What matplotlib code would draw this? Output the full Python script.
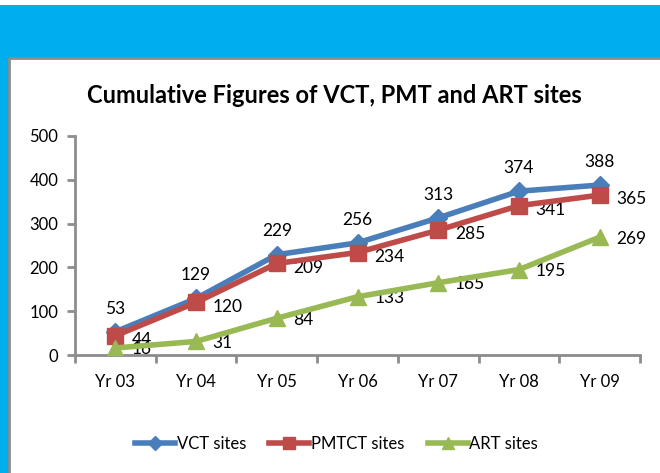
import matplotlib
matplotlib.use("Agg")
import matplotlib.pyplot as plt
from matplotlib.patches import Rectangle
import numpy as np

years = ["Yr 03", "Yr 04", "Yr 05", "Yr 06", "Yr 07", "Yr 08", "Yr 09"]
vct = [53, 129, 229, 256, 313, 374, 388]
pmtct = [44, 120, 209, 234, 285, 341, 365]
art = [16, 31, 84, 133, 165, 195, 269]

plt.rcParams['font.family'] = ['Lato', 'DejaVu Sans']

fig = plt.figure(figsize=(6.6, 4.73), dpi=100)
fig.patch.set_facecolor('white')

# blue slide background + white panel
fig.patches.append(Rectangle((0, 0), 1, 1 - 5/473, transform=fig.transFigure,
                             facecolor='#00AEEF', edgecolor='none', zorder=0))
fig.patches.append(Rectangle((9/660, -0.01), 1, 1 - 58/473 + 0.01, transform=fig.transFigure,
                             facecolor='white', edgecolor='#8c8c8c', linewidth=2, zorder=1))

ax = fig.add_axes([75/660, 1 - 355/473, 565/660, 219/473])
ax.set_zorder(2)
ax.patch.set_visible(False)

x = np.arange(len(years))
ax.plot(x, vct, color='#4A7EBB', lw=4, marker='D', ms=9, label='VCT sites', zorder=3)
ax.plot(x, pmtct, color='#BE4B48', lw=4, marker='s', ms=11, label='PMTCT sites', zorder=4)
ax.plot(x, art, color='#98B954', lw=4, marker='^', ms=12, label='ART sites', zorder=5)

for i, v in enumerate(vct):
    ax.annotate(str(v), (x[i], v), xytext=(0, 11), textcoords='offset points',
                ha='center', va='bottom', fontsize=12.5)
for i, v in enumerate(pmtct):
    ax.annotate(str(v), (x[i], v), xytext=(12, -3), textcoords='offset points',
                ha='left', va='center', fontsize=12.5)
for i, v in enumerate(art):
    ax.annotate(str(v), (x[i], v), xytext=(12, -1), textcoords='offset points',
                ha='left', va='center', fontsize=12.5)

ax.set_xlim(-0.5, 6.5)
ax.set_ylim(0, 500)
ax.set_yticks([0, 100, 200, 300, 400, 500])
ax.set_xticks(x)
ax.set_xticklabels(years)
ax.set_xticks(np.arange(-0.5, 7, 1), minor=True)
ax.tick_params(axis='x', which='major', length=0, pad=14, labelsize=12)
ax.tick_params(axis='x', which='minor', length=6, width=2, color='#8c8c8c', direction='out')
ax.tick_params(axis='y', length=6, width=2, color='#8c8c8c', labelsize=12, pad=6)
for s in ['top', 'right']:
    ax.spines[s].set_visible(False)
for s in ['left', 'bottom']:
    ax.spines[s].set_color('#8c8c8c')
    ax.spines[s].set_linewidth(2)

fig.text(0.507, 1 - 95/473, "Cumulative Figures of VCT, PMT and ART sites",
         ha='center', va='center', fontsize=17, fontweight='bold', zorder=3)

fig.legend(loc='center', bbox_to_anchor=(0.51, 1 - 444/473), ncol=3, frameon=False,
           fontsize=12, handlelength=2.4, handletextpad=0.1, columnspacing=1.4,
           markerscale=0.75)

fig.savefig('out.png', dpi=100)
